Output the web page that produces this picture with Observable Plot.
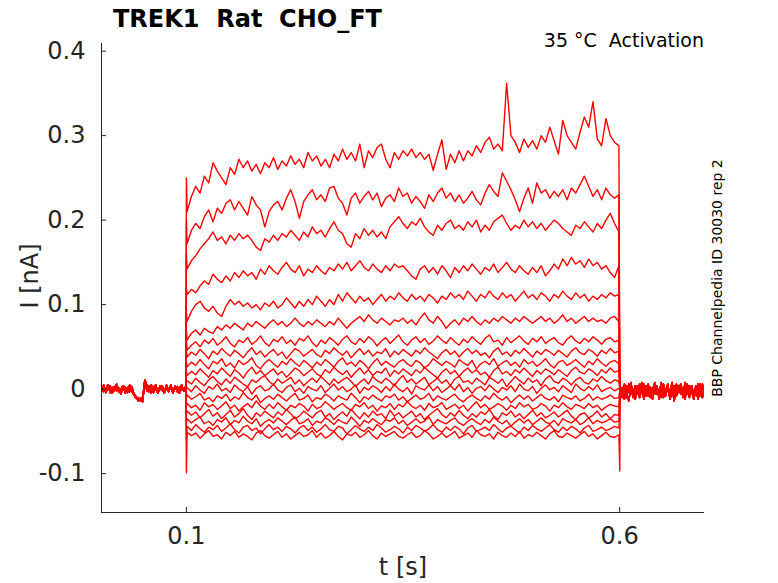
<!DOCTYPE html>
<html>
<head>
<meta charset="utf-8">
<script src="https://cdn.jsdelivr.net/npm/d3@7"></script>
<script src="https://cdn.jsdelivr.net/npm/@observablehq/plot@0.6"></script>
<style>
  html, body { margin: 0; padding: 0; background: #fff; }
  #wrap { position: relative; width: 778px; height: 583px; font-family: "DejaVu Sans", sans-serif; }
  #wrap > svg { position: absolute; left: 0; top: 0; }
  #overlay { pointer-events: none; }
</style>
</head>
<body>
<div id="wrap"></div>
<script>
// ---- labels ----
const titleText = "TREK1  Rat  CHO_FT";
const subtitleText = "35 °C  Activation";
const sideText = "BBP Channelpedia ID 30030 rep 2";
const xLabel = "t [s]";
const yLabel = "I [nA]";

// ---- axes ----
const xDomain = [0.002, 0.698];
const yDomain = [-0.146, 0.409];
const xTicks = [0.1, 0.6];
const xTickLabels = ["0.1", "0.6"];
const yTicks = [-0.1, 0, 0.1, 0.2, 0.3, 0.4];
const yTickLabels = ["-0.1", "0", "0.1", "0.2", "0.3", "0.4"];

// ---- stimulus timing (s) ----
const pulseStart = 0.1;
const pulseEnd = 0.6;

// ---- baseline current before the pulse (pA, sampled every 2.5 ms from 2 ms) ----
const preA = [4, -3, 1, 5, -4, 2, -2, 6, -3, 0, 4, -5, 2, -3, 3, -6, -9, -14, -11, -15, 11, 4, -3, 5, -4, 2, -5, 4, -1, -4, 5, -2, 3, -5, 4, -3, 1, 5, -2, 2];
const preB = [-3, 5, -4, 2, 4, -5, 3, -2, 1, -6, 4, 2, -4, 5, -2, -7, -11, -10, -14, -9, 8, -2, 4, -5, 2, 5, -4, 0, 4, -5, 2, -3, 5, -4, 1, 3, -5, 2, -2, 4];

// ---- baseline current after the pulse (pA, sampled every 2.5 ms) ----
const postA = [4, -8, 2, -10, 6, -6, 0, -12, 4, -4, 8, -8, -2, 6, -10, 2, -6, 4, -12, 0, 6, -8, 2, -4, 8, -10, 0, 4, -6, 2, -12, 6, -4, 0, -8, 4, -2, 6, -10, 2];
const postB = [-6, 2, -12, 4, -4, 8, -10, 0, -6, 6, -2, -12, 4, -8, 2, -4, 8, -6, 0, -10, 2, -2, 6, -12, -4, 4, -8, 0, 6, -10, 2, -6, 4, -2, -12, 0, 6, -8, 2, -4];
const postC = [0, -10, 6, -4, -14, 2, -6, 4, -2, -10, 0, 6, -8, 2, -4, -12, 4, 0, -6, 8, -10, -2, 4, -8, 0, -14, 6, -4, 2, -8, 8, -2, -10, 4, -6, 0, -12, 2, 6, -6];

// ---- capacitive transients at pulse on / off (pA), one per sweep ----
const onsetPeak = [250, 200, 160, 120, 90, 70, 60, 45, 32, 20, 10, 0, -10, -20, -30, -40, -60, -99];
const offsetPeak = [10, 8, 6, 5, 4, 3, 2, 2, 1, 1, 0, 0, -2, -4, -6, -8, -30, -97];

// ---- current during the pulse (pA), evenly sampled from 0.1 s to 0.6 s ----
const sweep01 = [210, 228, 240, 232, 252, 244, 268, 258, 250, 242, 262, 254, 272, 262, 270, 258, 266, 255, 268, 262, 274, 260, 270, 264, 276, 266, 272, 262, 280, 270, 276, 264, 272, 262, 278, 270, 284, 272, 280, 270, 290, 262, 282, 274, 286, 290, 272, 262, 280, 272, 282, 276, 284, 274, 280, 272, 278, 259, 278, 295, 260, 278, 268, 282, 270, 282, 276, 288, 280, 292, 298, 284, 290, 282, 362, 300, 292, 280, 296, 286, 294, 284, 300, 292, 310, 294, 278, 318, 300, 292, 284, 304, 322, 310, 340, 296, 288, 320, 300, 292, 288];
const sweep02 = [172, 188, 196, 190, 204, 212, 198, 214, 208, 220, 224, 212, 222, 214, 206, 228, 218, 212, 192, 210, 218, 222, 212, 226, 236, 222, 202, 222, 230, 236, 224, 230, 222, 238, 240, 226, 220, 206, 226, 232, 220, 228, 234, 224, 232, 216, 226, 230, 222, 238, 228, 232, 220, 228, 222, 214, 230, 222, 232, 238, 226, 232, 222, 230, 220, 226, 234, 224, 218, 232, 242, 234, 228, 256, 246, 236, 224, 210, 226, 238, 220, 244, 232, 236, 226, 234, 228, 236, 224, 238, 232, 242, 252, 240, 228, 236, 224, 238, 230, 226, 230];
const sweep03 = [142, 152, 158, 166, 172, 178, 186, 176, 180, 172, 182, 176, 184, 178, 182, 176, 168, 164, 178, 174, 182, 176, 184, 180, 188, 182, 176, 186, 180, 192, 184, 188, 180, 190, 198, 188, 184, 172, 168, 184, 178, 190, 182, 188, 180, 186, 178, 192, 198, 204, 196, 190, 198, 194, 202, 192, 186, 182, 194, 188, 196, 200, 190, 194, 188, 198, 192, 200, 186, 194, 188, 198, 202, 206, 196, 188, 194, 190, 200, 192, 198, 190, 196, 188, 194, 200, 196, 190, 186, 182, 194, 190, 198, 192, 186, 196, 190, 200, 208, 196, 186];
const sweep04 = [112, 118, 114, 122, 128, 124, 136, 130, 126, 134, 128, 138, 132, 140, 134, 138, 130, 142, 136, 146, 140, 136, 144, 150, 142, 138, 146, 134, 142, 138, 146, 140, 136, 144, 140, 148, 142, 150, 140, 146, 152, 144, 140, 148, 142, 138, 146, 140, 148, 144, 146, 140, 134, 130, 142, 146, 138, 144, 136, 146, 140, 132, 144, 138, 146, 140, 148, 142, 136, 144, 140, 148, 138, 144, 150, 142, 138, 146, 140, 136, 144, 138, 146, 134, 140, 148, 142, 154, 146, 156, 148, 152, 144, 154, 146, 150, 142, 146, 138, 132, 146];
const sweep05 = [80, 92, 100, 104, 96, 92, 98, 90, 86, 98, 106, 100, 104, 98, 102, 96, 100, 94, 102, 98, 104, 96, 100, 108, 102, 96, 104, 98, 106, 100, 110, 104, 98, 106, 100, 112, 104, 114, 108, 102, 110, 104, 108, 100, 106, 112, 104, 110, 106, 114, 108, 104, 112, 106, 110, 104, 112, 108, 102, 110, 106, 114, 108, 112, 106, 116, 110, 104, 112, 108, 116, 110, 106, 114, 108, 112, 104, 110, 116, 108, 112, 106, 114, 110, 104, 112, 108, 116, 110, 106, 114, 108, 112, 104, 110, 106, 112, 108, 114, 110, 112];
const sweep06 = [58, 66, 70, 64, 72, 68, 66, 74, 70, 76, 72, 78, 74, 70, 78, 74, 80, 76, 72, 78, 82, 76, 80, 74, 78, 84, 78, 74, 80, 76, 82, 78, 74, 80, 76, 84, 78, 72, 78, 82, 86, 80, 88, 82, 78, 84, 80, 76, 82, 80, 84, 78, 82, 76, 84, 90, 82, 78, 86, 80, 72, 78, 82, 76, 84, 80, 86, 80, 76, 82, 78, 84, 80, 86, 82, 78, 84, 80, 86, 82, 78, 82, 86, 80, 84, 78, 82, 88, 80, 84, 78, 82, 86, 80, 84, 80, 82, 78, 84, 86, 80];
const sweep07 = [46, 52, 56, 50, 58, 54, 60, 52, 56, 62, 54, 50, 58, 55, 61, 53, 57, 63, 55, 51, 59, 56, 62, 54, 58, 52, 60, 57, 63, 55, 50, 58, 54, 61, 57, 52, 59, 63, 56, 53, 60, 55, 62, 58, 51, 57, 61, 54, 59, 64, 56, 52, 58, 62, 55, 60, 53, 57, 63, 58, 54, 61, 56, 52, 59, 55, 62, 57, 53, 60, 64, 56, 58, 52, 61, 55, 59, 63, 57, 53, 60, 56, 62, 54, 58, 61, 55, 52, 59, 63, 57, 54, 60, 56, 62, 58, 53, 59, 61, 56, 58];
const sweep08 = [38, 44, 40, 47, 42, 36, 45, 41, 48, 43, 39, 46, 42, 37, 44, 49, 41, 45, 38, 43, 47, 40, 44, 36, 42, 48, 45, 39, 43, 47, 41, 38, 46, 42, 49, 44, 40, 45, 37, 43, 48, 41, 46, 39, 44, 42, 48, 38, 45, 41, 47, 43, 39, 46, 42, 49, 44, 40, 36, 43, 47, 41, 45, 38, 44, 48, 42, 46, 40, 43, 37, 45, 49, 41, 44, 39, 46, 42, 48, 43, 38, 45, 41, 47, 44, 40, 46, 42, 38, 45, 49, 43, 41, 47, 44, 39, 46, 42, 48, 43, 45];
const sweep09 = [26, 32, 28, 35, 29, 24, 33, 30, 36, 27, 31, 25, 34, 29, 32, 37, 28, 24, 31, 35, 30, 26, 33, 29, 36, 31, 27, 34, 30, 25, 32, 28, 35, 31, 26, 33, 37, 29, 32, 27, 34, 30, 24, 31, 36, 28, 33, 29, 26, 32, 35, 30, 27, 34, 31, 25, 29, 36, 32, 28, 33, 30, 26, 35, 31, 28, 34, 24, 30, 33, 29, 36, 27, 31, 34, 28, 32, 26, 35, 30, 33, 27, 31, 36, 29, 25, 32, 34, 28, 31, 35, 30, 26, 33, 29, 36, 31, 27, 32, 34, 30];
const sweep10 = [16, 21, 17, 24, 19, 14, 22, 18, 25, 20, 15, 23, 19, 13, 21, 26, 18, 22, 16, 20, 24, 17, 21, 14, 19, 25, 22, 16, 20, 24, 18, 15, 23, 19, 26, 21, 17, 22, 14, 20, 25, 18, 23, 16, 21, 19, 25, 15, 22, 18, 24, 20, 16, 23, 19, 26, 21, 17, 13, 20, 24, 18, 22, 15, 21, 25, 19, 23, 17, 20, 14, 22, 26, 18, 21, 16, 23, 19, 25, 20, 15, 22, 18, 24, 21, 17, 23, 19, 15, 22, 26, 20, 18, 24, 21, 16, 23, 19, 25, 20, 22];
const sweep11 = [10, 6, 13, 8, 4, 11, 15, 9, 5, 12, 7, 14, 10, 6, 3, 11, 8, 13, 16, 9, 5, 12, 7, 10, 14, 6, 11, 4, 9, 13, 8, 15, 10, 5, 12, 7, 11, 14, 9, 3, 8, 12, 6, 15, 10, 7, 13, 9, 4, 11, 16, 8, 12, 6, 10, 14, 5, 9, 13, 7, 11, 4, 12, 15, 8, 10, 6, 13, 9, 5, 14, 11, 7, 12, 3, 9, 15, 10, 6, 13, 8, 11, 4, 12, 16, 9, 7, 13, 10, 5, 11, 14, 8, 6, 12, 9, 15, 10, 7, 11, 9];
const sweep12 = [2, -3, 4, -1, -5, 3, 0, 6, -2, 1, -4, 5, 0, -3, 3, -6, 1, 4, -2, 0, 6, -1, -4, 2, 5, -3, 1, -5, 3, 0, -2, 4, -4, 1, 6, -1, 3, -3, 0, 5, -5, 2, -1, 4, 1, -4, 3, -2, 6, 0, -3, 2, -6, 4, 1, -1, 5, -2, 3, -4, 0, 4, -1, 6, -3, 2, -5, 1, 3, -2, 5, 0, -4, 2, -1, 4, -3, 6, 0, -2, 3, -5, 1, 5, -1, 2, -3, 4, 0, -4, 6, 1, -2, 3, -1, 5, -3, 0, 2, -2, 1];
const sweep13 = [-7, -12, -9, -5, -13, -10, -15, -8, -11, -6, -14, -9, -12, -4, -10, -13, -7, -16, -11, -8, -12, -6, -10, -14, -9, -5, -13, -11, -7, -15, -10, -12, -6, -9, -14, -8, -11, -13, -5, -10, -16, -9, -12, -7, -11, -14, -8, -10, -6, -13, -9, -15, -11, -7, -12, -10, -5, -14, -8, -11, -13, -9, -6, -12, -15, -10, -7, -11, -14, -8, -12, -5, -10, -13, -9, -16, -11, -7, -12, -8, -14, -10, -6, -11, -13, -9, -15, -7, -10, -12, -8, -14, -11, -6, -13, -9, -12, -10, -7, -11, -10];
const sweep14 = [-17, -22, -19, -25, -16, -21, -18, -24, -20, -15, -23, -19, -26, -21, -17, -22, -14, -20, -24, -18, -23, -16, -21, -25, -19, -22, -17, -20, -26, -18, -23, -21, -15, -19, -24, -20, -17, -22, -25, -18, -21, -16, -23, -19, -26, -20, -22, -17, -24, -18, -21, -15, -20, -23, -19, -25, -17, -22, -20, -16, -24, -21, -18, -23, -19, -26, -20, -15, -22, -18, -24, -21, -17, -20, -25, -19, -23, -16, -21, -18, -24, -22, -17, -20, -26, -19, -22, -16, -21, -24, -18, -20, -23, -17, -22, -19, -25, -21, -18, -20, -21];
const sweep15 = [-26, -31, -27, -34, -29, -24, -32, -28, -35, -30, -25, -33, -29, -23, -31, -36, -28, -32, -26, -30, -34, -27, -31, -24, -29, -35, -32, -26, -30, -34, -28, -25, -33, -29, -36, -31, -27, -32, -24, -30, -35, -28, -33, -26, -31, -29, -35, -25, -32, -28, -34, -30, -26, -33, -29, -36, -31, -27, -23, -30, -34, -28, -32, -25, -31, -35, -29, -33, -27, -30, -24, -32, -36, -28, -31, -26, -33, -29, -35, -30, -25, -32, -28, -34, -31, -27, -33, -29, -25, -32, -36, -30, -28, -34, -31, -26, -33, -29, -35, -30, -31];
const sweep16 = [-35, -40, -36, -33, -41, -38, -43, -36, -39, -34, -42, -37, -40, -32, -38, -41, -35, -44, -39, -36, -40, -34, -38, -42, -37, -33, -41, -39, -35, -43, -38, -40, -34, -37, -42, -36, -39, -41, -33, -38, -44, -37, -40, -35, -39, -42, -36, -38, -34, -41, -37, -43, -39, -35, -40, -38, -33, -42, -36, -39, -41, -37, -34, -40, -43, -38, -35, -39, -42, -36, -40, -33, -38, -41, -37, -44, -39, -35, -40, -36, -42, -38, -34, -39, -41, -37, -43, -35, -38, -40, -36, -42, -39, -34, -41, -37, -40, -38, -35, -39, -38];
const sweep17 = [-44, -49, -42, -47, -51, -45, -48, -43, -50, -46, -41, -48, -52, -45, -43, -49, -46, -53, -47, -42, -48, -45, -50, -44, -47, -52, -46, -43, -49, -45, -51, -47, -42, -48, -50, -44, -46, -53, -48, -43, -47, -50, -45, -49, -42, -46, -51, -48, -44, -47, -52, -45, -49, -43, -46, -50, -47, -42, -48, -51, -45, -49, -44, -47, -53, -46, -43, -50, -48, -45, -49, -42, -47, -51, -46, -44, -48, -52, -45, -49, -43, -47, -50, -46, -42, -48, -51, -45, -49, -44, -47, -52, -46, -43, -50, -48, -45, -49, -47, -44, -46];
const sweep18 = [-51, -55, -52, -58, -53, -49, -56, -54, -59, -51, -55, -50, -57, -53, -56, -60, -52, -49, -55, -58, -54, -50, -57, -53, -59, -55, -51, -56, -54, -49, -57, -52, -58, -55, -50, -56, -60, -53, -55, -51, -57, -54, -49, -55, -59, -52, -56, -53, -50, -56, -58, -54, -51, -57, -55, -49, -53, -59, -56, -52, -57, -54, -50, -58, -55, -52, -57, -49, -54, -56, -53, -59, -51, -55, -57, -52, -56, -50, -58, -54, -56, -51, -55, -59, -53, -49, -56, -57, -52, -55, -58, -54, -50, -56, -53, -59, -55, -51, -56, -57, -54];

const sweeps = [sweep01, sweep02, sweep03, sweep04, sweep05, sweep06, sweep07, sweep08, sweep09,
                sweep10, sweep11, sweep12, sweep13, sweep14, sweep15, sweep16, sweep17, sweep18];
const preSets = [preA, preB];
const postSets = [postA, postB, postC];

// ---- build long table (values in nA) ----
const rows = [];
sweeps.forEach((sw, k) => {
  const pre = preSets[k % 2];
  pre.forEach((v, i) => rows.push({sweep: k, t: 0.002 + i * 0.0025, I: v / 1000}));
  rows.push({sweep: k, t: pulseStart, I: onsetPeak[k] / 1000});
  const n = sw.length;
  const t0 = pulseStart + 0.0008, span = (pulseEnd - pulseStart) - 0.0016;
  sw.forEach((v, i) => rows.push({sweep: k, t: t0 + i * span / (n - 1), I: v / 1000}));
  rows.push({sweep: k, t: pulseEnd + 0.0002, I: offsetPeak[k] / 1000});
  const post = postSets[k % 3];
  post.forEach((v, i) => rows.push({sweep: k, t: pulseEnd + 0.0006 + i * 0.0025, I: v / 1000}));
});

const axisColor = "#262626";
const chart = Plot.plot({
  width: 778,
  height: 583,
  marginLeft: 101,
  marginRight: 74,
  marginTop: 43,
  marginBottom: 71,
  style: {fontFamily: "DejaVu Sans, sans-serif", background: "transparent", color: axisColor},
  x: {domain: xDomain},
  y: {domain: yDomain},
  marks: [
    Plot.line(rows, {x: "t", y: "I", z: "sweep", stroke: "#ff0000", strokeWidth: 1.4, clip: true}),
    Plot.ruleX([xDomain[0]], {stroke: axisColor, strokeWidth: 1}),
    Plot.ruleY([yDomain[0]], {stroke: axisColor, strokeWidth: 1}),
    Plot.axisX({ticks: xTicks, tickSize: -5, tickPadding: 19, fontSize: 24, stroke: axisColor, fill: axisColor,
      tickFormat: d => xTickLabels[xTicks.indexOf(d)], label: null}),
    Plot.axisY({ticks: yTicks, tickSize: -5, tickPadding: 21, fontSize: 24, stroke: axisColor, fill: axisColor,
      tickFormat: d => yTickLabels[yTicks.indexOf(d)], label: null})
  ]
});
document.getElementById("wrap").appendChild(chart);

// ---- text overlay ----
const ns = "http://www.w3.org/2000/svg";
const ov = document.createElementNS(ns, "svg");
ov.setAttribute("id", "overlay");
ov.setAttribute("width", 778);
ov.setAttribute("height", 583);
function addText(str, attrs) {
  const t = document.createElementNS(ns, "text");
  t.textContent = str;
  for (const [k, v] of Object.entries(attrs)) t.setAttribute(k, v);
  t.setAttribute("style", "white-space:pre");
  ov.appendChild(t);
}
addText(titleText, {x: 113, y: 27, "font-family": "DejaVu Sans", "font-weight": "bold", "font-size": 24, fill: "#000"});
addText(subtitleText, {x: 704, y: 47, "text-anchor": "end", "font-family": "DejaVu Sans", "font-size": 19, fill: "#000"});
addText(yLabel, {transform: "translate(38,276) rotate(-90)", "text-anchor": "middle", "font-family": "DejaVu Sans", "font-size": 24, fill: axisColor});
addText(xLabel, {x: 403, y: 575, "text-anchor": "middle", "font-family": "DejaVu Sans", "font-size": 24, fill: axisColor});
addText(sideText, {transform: "translate(722,278) rotate(-90)", "text-anchor": "middle", "font-family": "DejaVu Sans", "font-size": 14, fill: "#000"});
document.getElementById("wrap").appendChild(ov);
</script>
</body>
</html>
